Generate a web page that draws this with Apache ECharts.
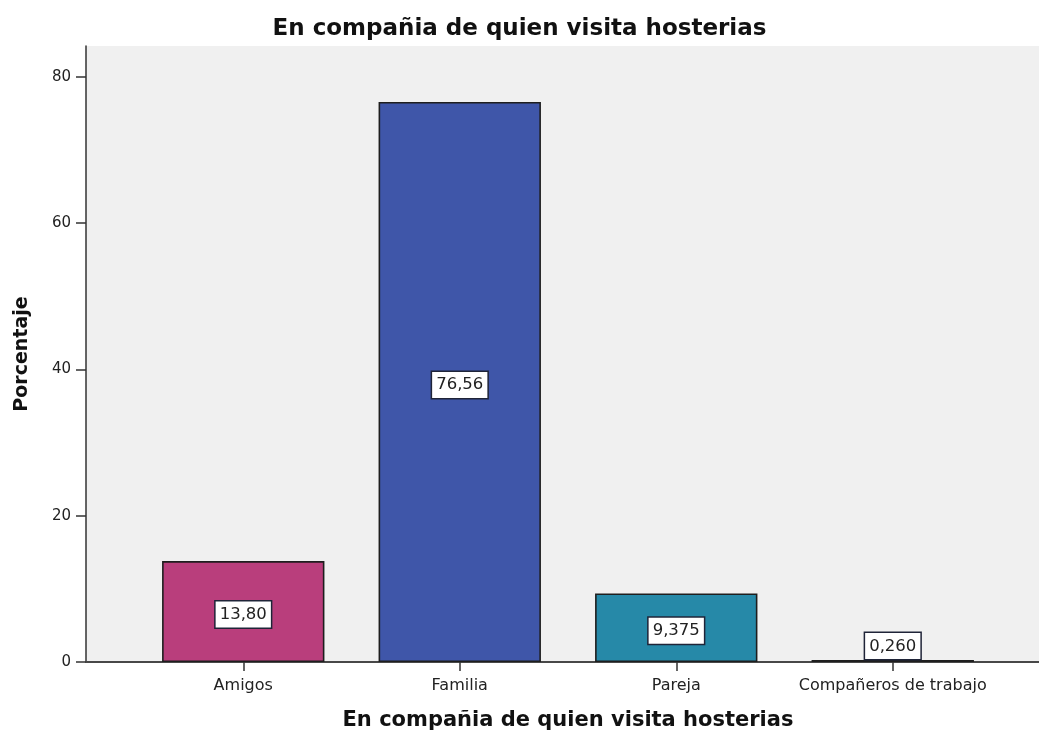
<!DOCTYPE html>
<html>
<head>
<meta charset="utf-8">
<title>En compañia de quien visita hosterias</title>
<script src="https://cdn.jsdelivr.net/npm/echarts@6/dist/echarts.min.js"></script>
<style>
  html, body { margin: 0; padding: 0; background: #ffffff; }
  #chart { width: 1039px; height: 730px; }
</style>
</head>
<body>
<div id="chart"></div>
<script>
// Companions when visiting hosterías (percent of respondents)
const categories = ['Amigos', 'Familia', 'Pareja', 'Compañeros de trabajo'];
const percentages = [13.80, 76.56, 9.375, 0.260];
const barColors = ['#b93e7c', '#3f56a9', '#2689a8', '#2f4a3c'];
const yTickValues = [0, 20, 40, 60, 80];

const FONT = '"DejaVu Sans", "Liberation Sans", Arial, sans-serif';

// Values are printed with four digits and a decimal comma
function formatPercent(v) {
  const decimals = v >= 10 ? 2 : 3;
  return v.toFixed(decimals).replace('.', ',');
}

const chart = echarts.init(document.getElementById('chart'), null, { renderer: 'canvas' });

const option = {
  backgroundColor: '#ffffff',
  animation: false,
  title: {
    text: 'En compañia de quien visita hosterias',
    left: 'center',
    top: 13,
    textStyle: { fontFamily: FONT, fontSize: 23, fontWeight: 'bold', color: '#111' }
  },
  grid: [
    // frame of the plot area (background, left axis, top and bottom rules)
    { left: 86, right: 0, top: 46, bottom: 68, show: true, backgroundColor: '#f0f0f0', borderWidth: 0,
      containLabel: false, outerBoundsMode: 'none' },
    // band area in which the bars are laid out
    { left: 135, right: 38, top: 46, bottom: 68, containLabel: false, outerBoundsMode: 'none' }
  ],
  xAxis: [
    {
      gridIndex: 0, type: 'value', position: 'top', min: 0, max: 1,
      axisLine: { show: true, lineStyle: { color: '#8a8a8a', width: 2 } },
      axisTick: { show: false }, axisLabel: { show: false }, splitLine: { show: false }
    },
    {
      gridIndex: 0, type: 'value', position: 'bottom', min: 0, max: 1,
      axisLine: { show: true, lineStyle: { color: '#333', width: 1.5 } },
      axisTick: { show: false }, axisLabel: { show: false }, splitLine: { show: false }
    },
    {
      gridIndex: 1, type: 'category', data: categories, position: 'bottom',
      axisLine: { show: false },
      axisTick: { show: true, alignWithLabel: true, length: 9, lineStyle: { color: '#333', width: 1.5 } },
      axisLabel: { interval: 0, margin: 16, fontFamily: FONT, fontSize: 16, color: '#222' },
      name: 'En compañia de quien visita hosterias',
      nameLocation: 'middle',
      nameGap: 48,
      nameTextStyle: { fontFamily: FONT, fontSize: 21, fontWeight: 'bold', color: '#111' }
    }
  ],
  yAxis: [
    {
      gridIndex: 0, type: 'value', min: 0, max: 84.2,
      axisLine: { show: true, lineStyle: { color: '#333', width: 1.5 } },
      axisTick: { show: true, length: 10, customValues: yTickValues, lineStyle: { color: '#333', width: 1.5 } },
      axisLabel: { customValues: yTickValues, margin: 15, fontFamily: FONT, fontSize: 15, color: '#222' },
      splitLine: { show: false },
      name: 'Porcentaje',
      nameLocation: 'middle',
      nameGap: 54,
      nameTextStyle: { fontFamily: FONT, fontSize: 19, fontWeight: 'bold', color: '#111' }
    },
    {
      gridIndex: 1, type: 'value', min: 0, max: 84.2, show: false,
      splitLine: { show: false }
    }
  ],
  series: [
    {
      type: 'bar',
      xAxisIndex: 2,
      yAxisIndex: 1,
      barWidth: '75%',
      data: percentages.map((v, i) => ({
        value: v,
        itemStyle: { color: barColors[i] },
        label: v < 3 ? { position: 'top', distance: 1, offset: [0, 0] } : {}
      })),
      itemStyle: { borderColor: '#1e1e1e', borderWidth: 1.6 },
      label: {
        show: true,
        position: 'inside',
        offset: [0, 3],
        formatter: p => formatPercent(p.value),
        fontFamily: FONT,
        fontSize: 16.5,
        color: '#222',
        backgroundColor: '#ffffff',
        borderColor: '#1f2438',
        borderWidth: 1.5,
        padding: [5, 4, 4, 4]
      }
    }
  ]
};

chart.setOption(option);
</script>
</body>
</html>
